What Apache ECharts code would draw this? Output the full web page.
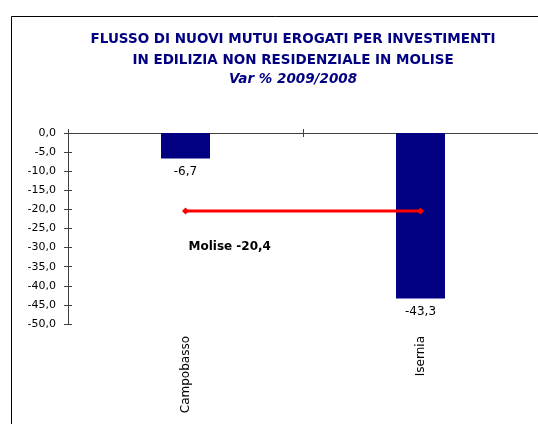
<!DOCTYPE html>
<html>
<head>
<meta charset="utf-8">
<script src="https://cdn.jsdelivr.net/npm/echarts@6/dist/echarts.min.js"></script>
<style>
  html, body { margin: 0; padding: 0; background: #fff; }
  #chart { width: 538px; height: 424px; }
</style>
</head>
<body>
<div id="chart"></div>
<script>
// dati
var province = ['Campobasso', 'Isernia'];
var variazioni = [-6.7, -43.3];
var molise = [-20.4, -20.4];
var titleLines = [
  'FLUSSO DI NUOVI MUTUI EROGATI PER INVESTIMENTI',
  'IN EDILIZIA NON RESIDENZIALE IN MOLISE',
  'Var % 2009/2008'
];

var FONT = '"DejaVu Sans", Verdana, sans-serif';

function fmt(v) {
  return Number(v).toFixed(1).replace('.', ',');
}

var chart = echarts.init(document.getElementById('chart'));

var option = {
  animation: false,
  backgroundColor: '#fff',
  grid: { left: 68, top: 133, right: 0, bottom: 100 },
  graphic: [
    {
      type: 'rect',
      shape: { x: 11.5, y: 16.5, width: 600, height: 500 },
      style: { fill: 'none', stroke: '#000', lineWidth: 1 },
      z: -1
    },
    {
      type: 'text', x: 293, y: 39,
      style: { text: titleLines[0], fill: '#000080', font: 'bold 13.5px ' + FONT, textAlign: 'center', textVerticalAlign: 'middle' }
    },
    {
      type: 'text', x: 293, y: 60,
      style: { text: titleLines[1], fill: '#000080', font: 'bold 13.5px ' + FONT, textAlign: 'center', textVerticalAlign: 'middle' }
    },
    {
      type: 'text', x: 293, y: 79,
      style: { text: titleLines[2], fill: '#000080', font: 'italic bold 13.5px ' + FONT, textAlign: 'center', textVerticalAlign: 'middle' }
    }
  ],
  xAxis: [
    {
      // etichette in basso
      type: 'category',
      data: province,
      position: 'bottom',
      axisLine: { show: false },
      axisTick: { show: false },
      axisLabel: { rotate: 90, margin: 12, color: '#000', fontSize: 12, fontFamily: FONT }
    },
    {
      // asse sullo zero, tacche esterne
      type: 'category',
      data: province,
      position: 'top',
      axisLine: { show: true, lineStyle: { color: '#404040', width: 1 } },
      axisTick: { show: true, length: 4, lineStyle: { color: '#404040' } },
      axisLabel: { show: false }
    },
    {
      // tacche interne
      type: 'category',
      data: province,
      position: 'top',
      axisLine: { show: false },
      axisTick: { show: true, inside: true, length: 4, lineStyle: { color: '#404040' } },
      axisLabel: { show: false }
    }
  ],
  yAxis: [
    {
      type: 'value',
      position: 'left',
      min: -50,
      max: 0,
      interval: 5,
      axisLine: { show: true, lineStyle: { color: '#404040', width: 1 } },
      axisTick: { show: true, length: 4, lineStyle: { color: '#404040' } },
      splitLine: { show: false },
      axisLabel: { margin: 12, color: '#000', fontSize: 11, fontFamily: FONT, formatter: fmt }
    },
    {
      type: 'value',
      position: 'left',
      offset: 0,
      min: -50,
      max: 0,
      interval: 5,
      axisLine: { show: false },
      axisTick: { show: true, inside: true, length: 4, lineStyle: { color: '#404040' } },
      splitLine: { show: false },
      axisLabel: { show: false }
    }
  ],
  series: [
    {
      type: 'bar',
      data: variazioni,
      barWidth: 49,
      itemStyle: { color: '#000080' },
      label: {
        show: true,
        position: 'outside',
        distance: 7,
        color: '#000',
        fontSize: 12,
        fontFamily: FONT,
        formatter: function (p) { return fmt(p.value); }
      }
    },
    {
      type: 'line',
      data: molise,
      symbol: 'diamond',
      symbolSize: 7,
      lineStyle: { color: '#ff0000', width: 3 },
      itemStyle: { color: '#ff0000' },
      label: {
        show: true,
        position: 'inside',
        align: 'left',
        offset: [3, 36],
        color: '#000',
        fontSize: 12,
        fontWeight: 'bold',
        fontFamily: FONT,
        formatter: function (p) { return p.dataIndex === 0 ? 'Molise ' + fmt(p.value) : ''; }
      }
    }
  ]
};

chart.setOption(option);
</script>
</body>
</html>
